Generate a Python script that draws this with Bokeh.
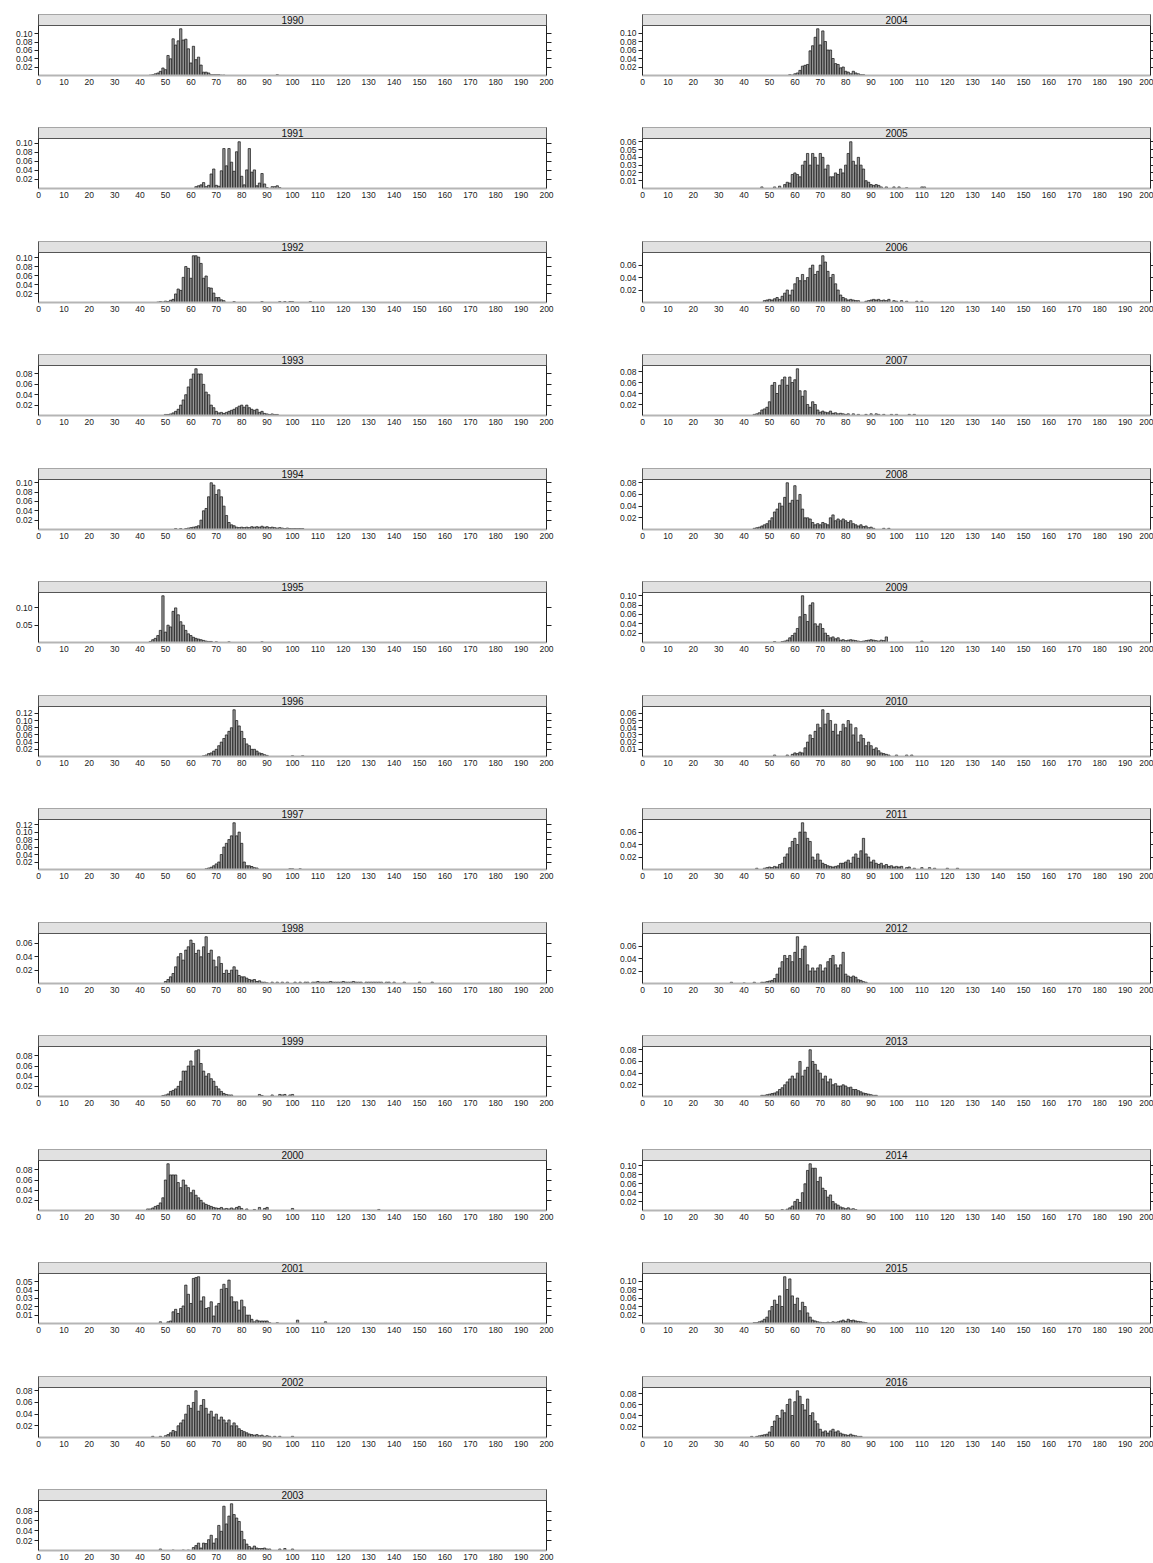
import numpy as np
from bokeh.plotting import figure
from bokeh.models import (Range1d, FixedTicker, LinearAxis, BoxAnnotation, Label,
                          NumeralTickFormatter, ColumnDataSource)
from bokeh.layouts import column, row
from bokeh.embed import file_html
from bokeh.resources import INLINE

# ---------------- data: length-frequency proportions by 1-unit bin ----------------
x_ticks = [0, 10, 20, 30, 40, 50, 60, 70, 80, 90, 100, 110, 120, 130, 140, 150, 160, 170, 180, 190, 200]

s1990 = 44
f1990 = [0.001, 0.002, 0.004, 0.006, 0.010, 0.018, 0.014, 0.048, 0.040, 0.088,
         0.073, 0.083, 0.112, 0.085, 0.087, 0.064, 0.030, 0.070, 0.038, 0.044,
         0.025, 0.008, 0.008, 0.006, 0.002, 0.002, 0.002, 0.002, 0.001, 0.001,
         0, 0, 0, 0, 0, 0, 0, 0, 0, 0, 0, 0, 0, 0, 0, 0, 0, 0, 0, 0, 0.002]
t1990 = [0.02, 0.04, 0.06, 0.08, 0.10]

s1991 = 62
f1991 = [0.004, 0.006, 0.008, 0.013, 0.004, 0.007, 0.032, 0.043, 0.007, 0.005,
         0.039, 0.088, 0.050, 0.088, 0.058, 0.038, 0.081, 0.103, 0.027, 0.008,
         0.041, 0.088, 0.036, 0.041, 0.006, 0.012, 0.033, 0.010, 0.002, 0,
         0.004, 0.004, 0.006, 0.002]
t1991 = [0.02, 0.04, 0.06, 0.08, 0.10]

s1992 = 47
f1992 = [0.001, 0.002, 0.001, 0.003, 0.002, 0.005, 0.007, 0.019, 0.030, 0.027,
         0.056, 0.080, 0.076, 0.054, 0.104, 0.104, 0.101, 0.087, 0.054, 0.059,
         0.033, 0.032, 0.021, 0.011, 0.011, 0.006, 0.004, 0, 0, 0,
         0.002, 0, 0, 0, 0, 0, 0, 0, 0, 0,
         0, 0.002, 0, 0, 0, 0, 0, 0, 0.002, 0,
         0.002, 0, 0.002, 0.002, 0, 0, 0, 0, 0, 0, 0.002]
t1992 = [0.02, 0.04, 0.06, 0.08, 0.10]

s1993 = 50
f1993 = [0.002, 0.002, 0.003, 0.005, 0.008, 0.012, 0.020, 0.030, 0.040, 0.055,
         0.070, 0.080, 0.090, 0.080, 0.080, 0.060, 0.045, 0.040, 0.020, 0.015,
         0.008, 0.005, 0.006, 0.004, 0.006, 0.008, 0.010, 0.012, 0.015, 0.018,
         0.020, 0.016, 0.020, 0.015, 0.012, 0.010, 0.012, 0.006, 0.008, 0.004,
         0.003, 0.002, 0.003, 0.002, 0.002]
t1993 = [0.02, 0.04, 0.06, 0.08]

s1994 = 54
f1994 = [0.002, 0, 0.002, 0, 0.002, 0.003, 0.004, 0.005, 0.006, 0.008,
         0.020, 0.040, 0.045, 0.070, 0.100, 0.095, 0.075, 0.085, 0.070, 0.050,
         0.030, 0.015, 0.010, 0.008, 0.005, 0.004, 0.005, 0.004, 0.005, 0.004,
         0.006, 0.005, 0.006, 0.005, 0.007, 0.005, 0.006, 0.004, 0.005, 0.004,
         0.003, 0.004, 0.003, 0.002, 0.003, 0.002, 0.002, 0.002, 0.002, 0.002, 0.002]
t1994 = [0.02, 0.04, 0.06, 0.08, 0.10]

s1995 = 44
f1995 = [0.003, 0.008, 0.012, 0.020, 0.035, 0.135, 0.030, 0.050, 0.045, 0.090,
         0.100, 0.080, 0.060, 0.050, 0.035, 0.025, 0.020, 0.015, 0.012, 0.010,
         0.008, 0.006, 0.004, 0.003, 0.003, 0, 0.002, 0, 0, 0,
         0, 0.002, 0, 0, 0, 0, 0, 0, 0, 0, 0, 0, 0, 0, 0.002]
t1995 = [0.05, 0.10]

s1996 = 65
f1996 = [0.002, 0.004, 0.008, 0.010, 0.015, 0.020, 0.030, 0.040, 0.050, 0.060,
         0.070, 0.080, 0.130, 0.100, 0.085, 0.070, 0.050, 0.035, 0.030, 0.020,
         0.020, 0.015, 0.010, 0.008, 0.005, 0.003, 0, 0, 0, 0,
         0, 0, 0, 0, 0, 0.002, 0, 0, 0, 0.002]
t1996 = [0.02, 0.04, 0.06, 0.08, 0.10, 0.12]

s1997 = 66
f1997 = [0.002, 0.004, 0.006, 0.010, 0.015, 0.020, 0.040, 0.060, 0.070, 0.080,
         0.090, 0.125, 0.090, 0.100, 0.070, 0.020, 0.010, 0.010, 0.008, 0.005,
         0.004, 0, 0, 0, 0, 0, 0, 0, 0, 0,
         0, 0, 0, 0.002, 0.002, 0, 0, 0.002]
t1997 = [0.02, 0.04, 0.06, 0.08, 0.10, 0.12]

s1998 = 50
f1998 = [0.003, 0.006, 0.010, 0.015, 0.025, 0.040, 0.045, 0.035, 0.050, 0.055,
         0.065, 0.060, 0.045, 0.050, 0.040, 0.055, 0.070, 0.045, 0.050, 0.035,
         0.025, 0.040, 0.030, 0.015, 0.020, 0.015, 0.020, 0.025, 0.020, 0.012,
         0.010, 0.010, 0.008, 0.006, 0.005, 0.006, 0.003, 0.004, 0.002, 0.002,
         0.001,
         0, 0.002, 0, 0.002, 0, 0.002, 0, 0.002, 0, 0,
         0.002, 0, 0.002, 0, 0.002, 0.002, 0, 0.002, 0.002, 0.003,
         0.002, 0.002, 0.002, 0.002, 0.003, 0.002, 0.002, 0.002, 0.002, 0.003,
         0.002, 0.002, 0.002, 0.003, 0.002, 0.002, 0.002, 0, 0.002, 0.002,
         0.002, 0.002, 0.002, 0.002, 0.002, 0, 0.002, 0.002, 0, 0.002,
         0, 0, 0, 0.002, 0, 0, 0, 0, 0, 0.002,
         0, 0, 0, 0, 0.002]
t1998 = [0.02, 0.04, 0.06]

s1999 = 49
f1999 = [0.002, 0.003, 0.005, 0.010, 0.012, 0.015, 0.020, 0.030, 0.050, 0.050,
         0.060, 0.070, 0.060, 0.090, 0.092, 0.065, 0.050, 0.040, 0.045, 0.035,
         0.030, 0.020, 0.015, 0.010, 0.006, 0.004, 0.003, 0.003,
         0, 0, 0, 0, 0, 0, 0, 0, 0, 0,
         0.004, 0.002, 0, 0, 0, 0.003, 0, 0, 0.004, 0.003, 0.004, 0, 0.003, 0.004]
t1999 = [0.02, 0.04, 0.06, 0.08]

s2000 = 43
f2000 = [0.003, 0.003, 0.005, 0.008, 0.010, 0.015, 0.025, 0.060, 0.092, 0.070,
         0.070, 0.070, 0.055, 0.045, 0.060, 0.050, 0.045, 0.035, 0.040, 0.030,
         0.025, 0.020, 0.015, 0.012, 0.010, 0.008, 0.006, 0.005, 0.004, 0.006,
         0.003, 0.004, 0.003, 0.005, 0.003, 0.006, 0.008, 0.004,
         0, 0.003, 0, 0, 0.002, 0, 0.006, 0, 0.004, 0.006,
         0, 0, 0, 0, 0, 0, 0, 0, 0, 0.004,
         0, 0, 0, 0, 0, 0, 0, 0, 0, 0,
         0, 0, 0, 0, 0, 0, 0, 0, 0, 0,
         0, 0, 0, 0, 0, 0, 0, 0, 0, 0,
         0, 0, 0, 0.002]
t2000 = [0.02, 0.04, 0.06, 0.08]

s2001 = 48
f2001 = [0.002, 0, 0, 0.002, 0.003, 0.014, 0.017, 0.012, 0.018, 0.021,
         0.046, 0.035, 0.024, 0.054, 0.055, 0.056, 0.027, 0.032, 0.018, 0.019,
         0.026, 0.009, 0.021, 0.024, 0.041, 0.047, 0.042, 0.052, 0.032, 0.026,
         0.026, 0.016, 0.028, 0.020, 0.010, 0.010, 0.005, 0.002, 0.004, 0.003,
         0.003, 0.003, 0.003, 0.001, 0, 0, 0.001, 0, 0, 0,
         0, 0, 0, 0, 0.004, 0, 0, 0, 0, 0,
         0, 0, 0, 0, 0, 0.002]
t2001 = [0.01, 0.02, 0.03, 0.04, 0.05]

s2002 = 45
f2002 = [0.002, 0, 0, 0.002, 0, 0.003, 0.005, 0.008, 0.012, 0.010,
         0.020, 0.025, 0.030, 0.040, 0.055, 0.050, 0.060, 0.080, 0.045, 0.055,
         0.065, 0.050, 0.040, 0.045, 0.035, 0.040, 0.030, 0.035, 0.030, 0.025,
         0.030, 0.020, 0.025, 0.020, 0.015, 0.012, 0.010, 0.008, 0.006, 0.005,
         0.004, 0.005, 0.003, 0.004, 0.002, 0.003, 0.002, 0, 0.002, 0,
         0.002, 0, 0, 0, 0, 0.002]
t2002 = [0.02, 0.04, 0.06, 0.08]

s2003 = 48
f2003 = [0.003, 0, 0, 0, 0, 0.001, 0, 0, 0, 0.001,
         0, 0.001, 0,
         0.006, 0.010, 0.015, 0.005, 0.015, 0.014, 0.022, 0.031, 0.015, 0.024,
         0.051, 0.039, 0.090, 0.054, 0.070, 0.095, 0.073, 0.066, 0.059, 0.039,
         0.022, 0.013, 0.008, 0.005, 0.009, 0.005, 0.004, 0.004, 0.005, 0.003,
         0.003, 0, 0, 0, 0.003, 0, 0.004, 0, 0, 0.003]
t2003 = [0.02, 0.04, 0.06, 0.08]

s2004 = 58
f2004 = [0.002, 0.001, 0.004, 0.006, 0.012, 0.022, 0.024, 0.026, 0.058, 0.070,
         0.090, 0.110, 0.072, 0.105, 0.080, 0.060, 0.060, 0.040, 0.028, 0.026,
         0.018, 0.020, 0.010, 0.008, 0.004, 0.010, 0.006, 0.004, 0.002, 0.002]
t2004 = [0.02, 0.04, 0.06, 0.08, 0.10]

s2005 = 47
f2005 = [0.002, 0, 0, 0, 0, 0.002, 0, 0.003, 0, 0.005,
         0.008, 0.007, 0.018, 0.020, 0.018, 0.015, 0.030, 0.035, 0.045, 0.030,
         0.045, 0.040, 0.030, 0.045, 0.040, 0.025, 0.030, 0.015, 0.015, 0.020,
         0.018, 0.025, 0.020, 0.030, 0.045, 0.060, 0.035, 0.030, 0.040, 0.030,
         0.025, 0.010, 0.008, 0.005, 0.004, 0.005, 0.004, 0.002, 0, 0.002,
         0, 0, 0.002, 0, 0.002, 0, 0, 0.001, 0, 0,
         0, 0, 0, 0.002, 0.002]
t2005 = [0.01, 0.02, 0.03, 0.04, 0.05, 0.06]

s2006 = 48
f2006 = [0.003, 0.004, 0.005, 0.004, 0.006, 0.008, 0.005, 0.010, 0.015, 0.020,
         0.012, 0.020, 0.030, 0.040, 0.035, 0.045, 0.035, 0.040, 0.055, 0.060,
         0.045, 0.050, 0.060, 0.075, 0.065, 0.050, 0.040, 0.045, 0.030, 0.020,
         0.012, 0.008, 0.006, 0.004, 0.005, 0.004, 0.003, 0.003, 0, 0,
         0.002, 0.003, 0.004, 0.005, 0.004, 0.005, 0.003, 0.004, 0.003, 0.005,
         0, 0.003, 0.002, 0, 0.003, 0, 0.002, 0, 0, 0,
         0.002, 0, 0.002]
t2006 = [0.02, 0.04, 0.06]

s2007 = 44
f2007 = [0.002, 0.003, 0.005, 0.010, 0.012, 0.015, 0.025, 0.055, 0.060, 0.040,
         0.055, 0.065, 0.070, 0.055, 0.070, 0.060, 0.065, 0.085, 0.045, 0.035,
         0.045, 0.020, 0.015, 0.025, 0.020, 0.010, 0.006, 0.008, 0.006, 0.005,
         0.008, 0.004, 0.005, 0.003, 0.004, 0.003, 0.002, 0.003, 0, 0.003,
         0, 0.002, 0, 0, 0.002, 0, 0.003, 0, 0.003, 0.002,
         0, 0.002, 0, 0, 0.002, 0, 0.002, 0, 0, 0,
         0, 0.002, 0, 0.002]
t2007 = [0.02, 0.04, 0.06, 0.08]

s2008 = 44
f2008 = [0.002, 0.003, 0.004, 0.006, 0.008, 0.010, 0.015, 0.020, 0.030, 0.035,
         0.045, 0.040, 0.055, 0.080, 0.045, 0.050, 0.075, 0.050, 0.060, 0.035,
         0.020, 0.020, 0.018, 0.012, 0.008, 0.010, 0.008, 0.012, 0.010, 0.008,
         0.020, 0.025, 0.015, 0.018, 0.015, 0.018, 0.015, 0.012, 0.015, 0.010,
         0.008, 0.006, 0.008, 0.005, 0.006, 0.003, 0.004, 0.002, 0, 0,
         0, 0.002, 0, 0.002]
t2008 = [0.02, 0.04, 0.06, 0.08]

s2009 = 52
f2009 = [0.002, 0, 0, 0.002, 0.003, 0.005, 0.010, 0.015, 0.020, 0.030,
         0.055, 0.100, 0.060, 0.045, 0.080, 0.085, 0.040, 0.035, 0.040, 0.030,
         0.020, 0.015, 0.010, 0.012, 0.008, 0.010, 0.005, 0.006, 0.004, 0.005,
         0.006, 0.005, 0.004, 0.003, 0.002, 0.003, 0.004, 0.005, 0.006, 0.005,
         0.004, 0.003, 0.005, 0.004, 0.012, 0, 0, 0, 0, 0,
         0, 0, 0, 0, 0, 0, 0, 0, 0.003]
t2009 = [0.02, 0.04, 0.06, 0.08, 0.10]

s2010 = 52
f2010 = [0.002, 0, 0, 0, 0, 0.002, 0, 0.003, 0.005, 0.004,
         0.006, 0.005, 0.012, 0.020, 0.030, 0.025, 0.035, 0.045, 0.040, 0.065,
         0.045, 0.060, 0.050, 0.035, 0.045, 0.030, 0.035, 0.045, 0.040, 0.050,
         0.045, 0.030, 0.040, 0.020, 0.030, 0.025, 0.015, 0.020, 0.015, 0.010,
         0.012, 0.008, 0.005, 0.004, 0.003, 0.002, 0, 0, 0.002, 0,
         0, 0, 0.002, 0, 0.002]
t2010 = [0.01, 0.02, 0.03, 0.04, 0.05, 0.06]

s2011 = 45
f2011 = [0.002, 0, 0, 0.002, 0.003, 0.004, 0.003, 0.005, 0.004, 0.008,
         0.010, 0.020, 0.025, 0.035, 0.045, 0.050, 0.040, 0.060, 0.075, 0.060,
         0.050, 0.045, 0.020, 0.015, 0.025, 0.015, 0.010, 0.008, 0.006, 0.005,
         0.004, 0.005, 0.006, 0.010, 0.010, 0.012, 0.015, 0.010, 0.020, 0.025,
         0.018, 0.030, 0.050, 0.025, 0.020, 0.012, 0.015, 0.010, 0.008, 0.010,
         0.006, 0.008, 0.005, 0.006, 0.004, 0.005, 0.004, 0.005, 0, 0.003,
         0.004, 0, 0.002, 0, 0, 0.003, 0, 0, 0.003, 0,
         0.002, 0, 0, 0, 0, 0.002, 0, 0, 0, 0.002]
t2011 = [0.02, 0.04, 0.06]

s2012 = 35
f2012 = [0.002, 0, 0, 0, 0, 0.001, 0, 0, 0, 0.002,
         0, 0, 0.002, 0.002, 0.003, 0.004, 0.005, 0.008, 0.015, 0.025,
         0.035, 0.045, 0.040, 0.045, 0.035, 0.050, 0.075, 0.040, 0.055, 0.060,
         0.030, 0.020, 0.025, 0.020, 0.025, 0.030, 0.020, 0.025, 0.035, 0.040,
         0.045, 0.030, 0.025, 0.030, 0.050, 0.015, 0.012, 0.010, 0.012, 0.010,
         0.006, 0.005, 0.003, 0.002]
t2012 = [0.02, 0.04, 0.06]

s2013 = 47
f2013 = [0.002, 0.002, 0.003, 0.004, 0.005, 0.006, 0.008, 0.012, 0.015, 0.020,
         0.025, 0.030, 0.035, 0.030, 0.040, 0.060, 0.035, 0.045, 0.050, 0.080,
         0.060, 0.055, 0.045, 0.040, 0.030, 0.035, 0.025, 0.030, 0.020, 0.022,
         0.018, 0.018, 0.020, 0.018, 0.015, 0.016, 0.012, 0.012, 0.010, 0.008,
         0.006, 0.005, 0.004, 0.003, 0.002, 0.002]
t2013 = [0.02, 0.04, 0.06, 0.08]

s2014 = 55
f2014 = [0.002, 0, 0.003, 0.006, 0.010, 0.020, 0.025, 0.018, 0.040, 0.060,
         0.090, 0.105, 0.095, 0.095, 0.065, 0.075, 0.050, 0.045, 0.030, 0.035,
         0.020, 0.015, 0.012, 0.008, 0.006, 0.004, 0.006, 0.003, 0.004, 0.002]
t2014 = [0.02, 0.04, 0.06, 0.08, 0.10]

s2015 = 44
f2015 = [0.002, 0.002, 0.004, 0.006, 0.010, 0.015, 0.030, 0.040, 0.055, 0.045,
         0.065, 0.040, 0.110, 0.080, 0.105, 0.065, 0.045, 0.060, 0.030, 0.050,
         0.040, 0.025, 0.015, 0.008, 0.006, 0.004, 0.003, 0.002, 0.002, 0.003,
         0.002, 0.004, 0.003, 0.004, 0.006, 0.008, 0.005, 0.010, 0.007, 0.008,
         0.006, 0.005, 0.004, 0.003, 0.002]
t2015 = [0.02, 0.04, 0.06, 0.08, 0.10]

s2016 = 43
f2016 = [0.002, 0, 0.002, 0.003, 0.004, 0.005, 0.006, 0.010, 0.020, 0.030,
         0.040, 0.035, 0.050, 0.045, 0.060, 0.070, 0.040, 0.065, 0.085, 0.075,
         0.060, 0.050, 0.070, 0.040, 0.045, 0.030, 0.025, 0.015, 0.010, 0.012,
         0.008, 0.012, 0.015, 0.010, 0.012, 0.008, 0.006, 0.005, 0.004, 0.006,
         0.004, 0.003, 0.002, 0.002]
t2016 = [0.02, 0.04, 0.06, 0.08]

years_left = [1990, 1991, 1992, 1993, 1994, 1995, 1996, 1997, 1998, 1999, 2000, 2001, 2002, 2003]
years_right = [2004, 2005, 2006, 2007, 2008, 2009, 2010, 2011, 2012, 2013, 2014, 2015, 2016]

g = globals()
panels = {y: (g["s%d" % y], g["f%d" % y], g["t%d" % y]) for y in years_left + years_right}

# ---------------- styling ----------------
FONT = "Liberation Sans"
TXT = "#222222"
FRAME_W = 508
LEFT_B = 38
TOP_B = 14
FRAME_H = 61     # strip (11) + data area (50)
DATA_H = 50
row_heights = [113, 114, 113, 114, 113, 114, 113, 114, 113, 114, 113, 114, 113, 87]


def make_panel(year, right_border, height, tick_out):
    start, freq, yticks = panels[year]
    freq = np.asarray(freq, dtype=float)
    bins = np.arange(start, start + len(freq))
    keep = freq > 0
    ytop = freq.max() * 1.07
    yend = ytop * FRAME_H / DATA_H
    p = figure(width=LEFT_B + FRAME_W + right_border, height=height,
               x_range=Range1d(0, 200), y_range=Range1d(0, yend),
               output_backend="svg", toolbar_location=None, title=None,
               min_border_left=LEFT_B, min_border_right=right_border,
               min_border_top=TOP_B, min_border_bottom=height - TOP_B - FRAME_H)
    p.outline_line_color = None
    p.grid.visible = False
    p.background_fill_color = "white"
    p.border_fill_color = "white"

    src = ColumnDataSource(dict(x=bins[keep], top=freq[keep]))
    p.vbar(x="x", top="top", bottom=0, width=0.9, source=src,
           fill_color="#999999", line_color="#111111", line_width=0.7)

    xa = p.xaxis[0]
    xa.ticker = FixedTicker(ticks=x_ticks)
    xa.axis_line_color = "#b5b5b5"
    xa.axis_line_width = 2
    xa.major_tick_line_color = None
    xa.minor_tick_line_color = None
    xa.major_tick_out = 0
    xa.major_tick_in = 0
    xa.major_label_standoff = 3
    xa.major_label_text_font = FONT
    xa.major_label_text_font_size = "8.5px"
    xa.major_label_text_color = TXT

    ya = p.yaxis[0]
    ya.ticker = FixedTicker(ticks=yticks)
    ya.formatter = NumeralTickFormatter(format="0.00")
    ya.axis_line_color = "#222222"
    ya.major_tick_line_color = "#222222"
    ya.minor_tick_line_color = None
    ya.major_tick_out = 4
    ya.major_tick_in = 0
    ya.major_label_standoff = 2
    ya.major_label_text_font = FONT
    ya.major_label_text_font_size = "8.5px"
    ya.major_label_text_color = TXT

    ra = LinearAxis(ticker=FixedTicker(ticks=yticks),
                    major_label_overrides={v: "" for v in yticks},
                    major_label_text_font_size="1px",
                    major_label_standoff=0,
                    axis_line_color="#222222", major_tick_line_color="#222222",
                    minor_tick_line_color=None, major_tick_out=tick_out, major_tick_in=0)
    p.add_layout(ra, "right")

    p.add_layout(BoxAnnotation(bottom=ytop, top=yend, fill_color="#e1e1e1", fill_alpha=1.0,
                               line_color="#555555", line_width=1, line_alpha=1.0))
    p.add_layout(Label(x=100, y=(ytop + yend) / 2, text=str(year), text_align="center",
                       text_baseline="middle", text_font=FONT, text_font_size="10px",
                       text_color="#111111"))
    return p


rows = []
for i, yl in enumerate(years_left):
    h = row_heights[i]
    left = make_panel(yl, 58, h, 5)
    if i < len(years_right):
        right = make_panel(years_right[i], 3, h, 3)
        rows.append(row(left, right))
    else:
        rows.append(row(left))

layout = column(*rows)

with open("out.html", "w") as fh:
    fh.write(file_html(layout, INLINE))
